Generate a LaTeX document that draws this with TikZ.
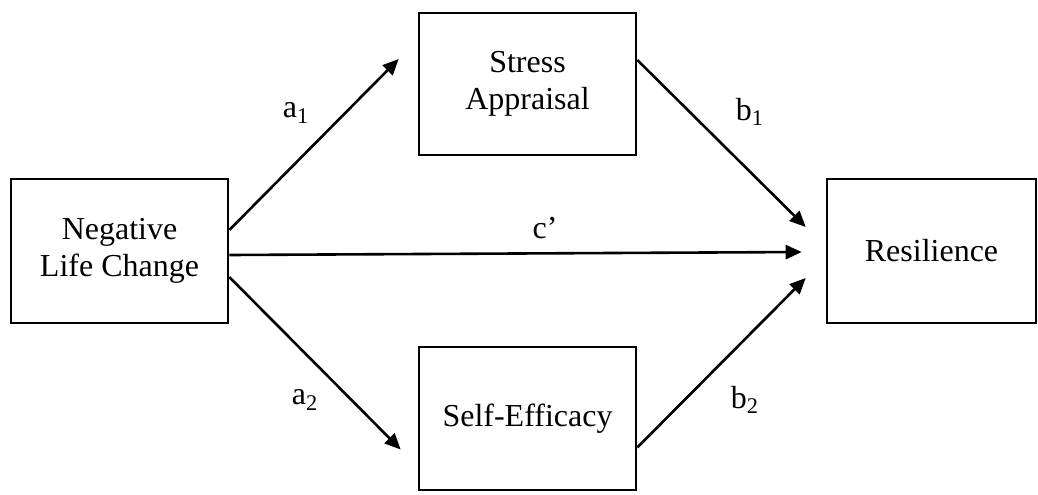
\documentclass[tikz,border=0pt]{standalone}
\usepackage{fontspec}
\setmainfont{Liberation Serif}
\usetikzlibrary{arrows.meta}

\begin{document}
\begin{tikzpicture}[x=0.5pt,y=-0.5pt,line width=1.3pt,>={Triangle[length=8pt,width=7pt]}]
        \tikzset{box/.style={draw,minimum width=108.5pt,minimum height=72pt,align=center,inner sep=0pt,font=\fontsize{16}{18.6}\selectfont},
                 lbl/.style={font=\fontsize{16}{18.6}\selectfont}}
        \useasboundingbox (0,0) rectangle (1038,494);

        \node[box] (N) at (119.5,251) {Negative\\Life Change};
        \node[box,minimum height=71pt] (SA) at (527.5,84) {Stress\\Appraisal};
        \node[box,minimum height=71.5pt] (SE) at (527.5,418.5) {Self-Efficacy};
        \node[box,minimum width=104.5pt] (R) at (931.5,251) {Resilience};

        \node[lbl] (A1) at (296,113) {a\textsubscript{1}};
        \node[lbl] (B1) at (750,112) {b\textsubscript{1}};
        \node[lbl] (C) at (545,228) {c'};
        \node[lbl] (A2) at (305,400) {a\textsubscript{2}};
        \node[lbl] (B2) at (745,400) {b\textsubscript{2}};

        \draw[->] ([yshift=10.5pt]N.east) -- ([xshift=-9.5pt,yshift=12.5pt]SA.west);
        \draw[->] ([yshift=12pt]SA.east) -- ([xshift=-10pt,yshift=12pt]R.west);
        \draw[->] ([yshift=-2pt]N.east) -- ([xshift=-12pt,yshift=-0.5pt]R.west);
        \draw[->] ([yshift=-13pt]N.east) -- ([xshift=-8.5pt,yshift=-15.5pt]SE.west);
        \draw[->] ([yshift=-14.5pt]SE.east) -- ([xshift=-10pt,yshift=-13.5pt]R.west);

    \end{tikzpicture}
\end{document}
